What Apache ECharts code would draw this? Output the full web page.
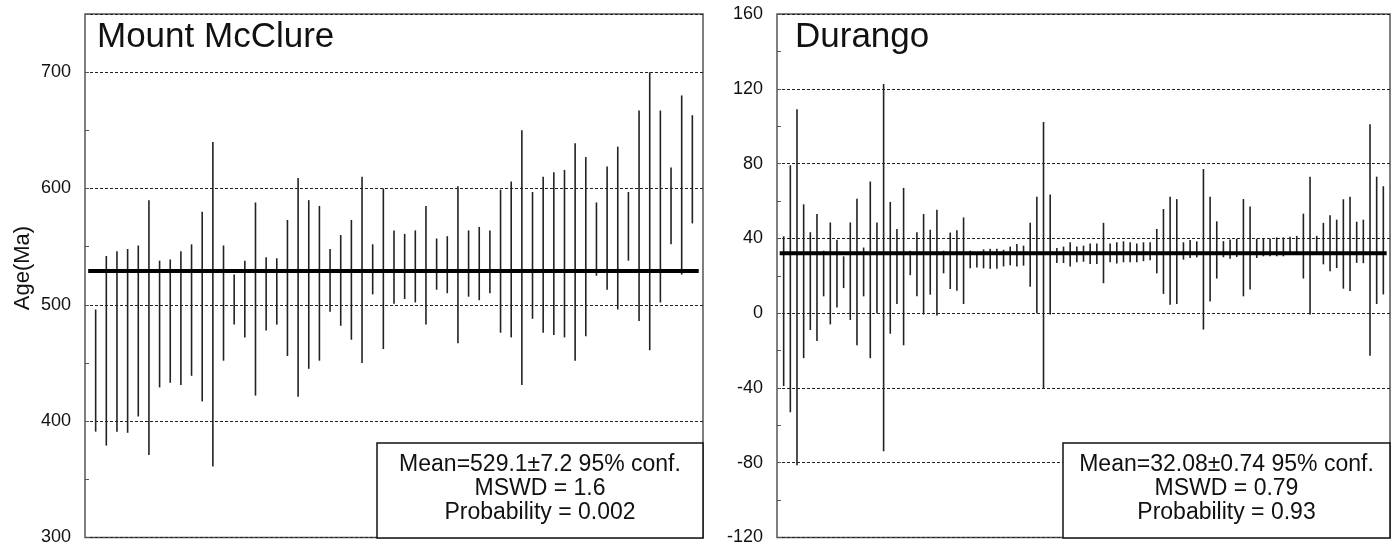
<!DOCTYPE html>
<html>
<head>
<meta charset="utf-8">
<script src="https://cdn.jsdelivr.net/npm/echarts@6/dist/echarts.min.js"></script>
<style>
  html, body { margin: 0; padding: 0; background: #fff; }
  #chart { width: 1395px; height: 547px; }
</style>
</head>
<body>
<div id="chart"></div>
<script>
// ---------- Data ----------
const mcTitle = 'Mount McClure';
const duTitle = 'Durango';
const yAxisName = 'Age(Ma)';

const mcTicks = [300, 400, 500, 600, 700];
const duTicks = [-120, -80, -40, 0, 40, 80, 120, 160];

const mcMean = 529.1;
const duMean = 32.08;

const mcStats = ['Mean=529.1\u00B17.2 95% conf.', 'MSWD = 1.6', 'Probability = 0.002'];
const duStats = ['Mean=32.08\u00B10.74 95% conf.', 'MSWD = 0.79', 'Probability = 0.93'];

// Mount McClure error bars (upper / lower ends, Ma)
const mcHigh = [496, 542, 546, 548, 551, 590, 538, 539, 546, 552,
                580, 640, 551, 526, 538, 588, 541, 540, 573, 609,
                590, 585, 548, 560, 573, 610, 552, 600, 564, 561,
                564, 585, 557, 559, 602, 564, 567, 564, 599, 606,
                650, 597, 610, 614, 616, 639, 627, 588, 619, 636,
                597, 667, 700, 667, 618, 680, 663];
const mcLow  = [391, 379, 391, 390, 404, 371, 429, 433, 431, 439,
                417, 361, 452, 483, 472, 422, 478, 483, 456, 421,
                445, 452, 494, 482, 470, 450, 509, 462, 501, 505,
                502, 483, 513, 510, 467, 507, 504, 510, 476, 472,
                431, 488, 476, 474, 472, 452, 473, 525, 513, 496,
                538, 486, 461, 502, 552, 526, 570];

// Durango error bars (upper / lower ends, Ma)
const duHigh = [41.1, 79.1, 109, 58.2, 43.3, 53, 33.4, 48.5, 39.2, 30.4,
                48.5, 61.2, 35.1, 70.4, 48.5, 122.5, 59.5, 45, 67, 33.4,
                43.3, 53, 44.6, 55.3, 33.4, 43.1, 44.3, 51.2, 33.4, 32.7,
                34.1, 34.4, 34.4, 33.9, 35.6, 37, 36.1, 48.4, 62.3, 102.3,
                63.5, 34.9, 35.6, 37.9, 35.6, 36.1, 37.3, 37.3, 48.3, 37.3,
                37.9, 38.4, 37.9, 37.3, 37.9, 37.9, 45, 55.7, 62.3, 61,
                37.9, 39.1, 38.4, 77.1, 62.3, 49.1, 38.5, 39.4, 39.8, 61,
                57.1, 39.8, 39.8, 39.8, 40.5, 40.5, 40.9, 41.3, 53.2, 73,
                41.3, 48.3, 52.3, 50, 60.9, 62.2, 48.9, 50, 101, 73, 67.9];
const duLow  = [-39, -53, -81.4, -24.1, -9, -14.9, 9, -6, 3, 13.4,
                -3.7, -17.2, 9, -24.1, 0, -73.9, -11, 4.9, -17.2, 20.3,
                9, -0.7, 9.9, -1.3, 21.3, 12.9, 12, 4.9, 24, 24.4,
                24, 23.7, 23.7, 25, 25.6, 25, 25.4, 14.1, 0, -40.5,
                -0.7, 26.8, 26.8, 24.9, 27.2, 27.5, 26.3, 26.3, 16, 27.2,
                26.6, 27.2, 27.2, 27.2, 27.8, 28.3, 21.3, 10.3, 4.5, 4.9,
                28.6, 29.5, 29.8, -8.8, 6.2, 18.5, 29.9, 29.1, 30, 9,
                12.7, 29.5, 30.4, 30.4, 30.4, 30.4, 31.5, 31.9, 18.5, -0.7,
                31.5, 26.1, 22.4, 24.1, 13.1, 11.8, 26.9, 26.7, -22.8, 4.9, 10];

// ---------- Build ----------
const FONT = "'Liberation Sans', Arial, Helvetica, sans-serif";
const TXT = '#111';

function barData(lo, hi) {
  return lo.map((l, i) => [i + 1, l, hi[i]]);
}
function errorRender(params, api) {
  const x = api.value(0);
  const p1 = api.coord([x, api.value(1)]);
  const p2 = api.coord([x, api.value(2)]);
  return {
    type: 'line',
    shape: { x1: p1[0], y1: p1[1], x2: p2[0], y2: p2[1] },
    style: { stroke: '#222', lineWidth: 1.6 }
  };
}

function labelAxis(gridIndex, ticks, step, max) {
  return {
    type: 'value', gridIndex: gridIndex, position: 'left',
    min: ticks[0], max: max, interval: step,
    axisLine: { show: false }, axisTick: { show: false },
    axisLabel: {
      color: TXT, fontSize: 18, fontFamily: FONT, margin: 14,
      formatter: v => (ticks.indexOf(v) >= 0 ? String(v) : '')
    },
    splitLine: { show: true, lineStyle: { color: '#222', width: 1, type: [3, 2] } }
  };
}
function tickAxis(gridIndex, min, max, step) {
  return {
    type: 'value', gridIndex: gridIndex, position: 'left', offset: 0,
    min: min, max: max, interval: step,
    axisLine: { show: false },
    axisTick: { show: true, inside: true, length: 4, lineStyle: { color: '#555', width: 1 } },
    axisLabel: { show: false }, splitLine: { show: false }
  };
}

function statsBox(x, y, w, h, lines) {
  const els = [{
    type: 'rect', z: 100, shape: { x: x, y: y, width: w, height: h },
    style: { fill: '#fff', stroke: '#111', lineWidth: 1.5 }
  }];
  lines.forEach((t, i) => {
    els.push({
      type: 'text', z: 101, x: x + w / 2, y: y + 22 + i * 24,
      style: { text: t, fill: TXT, font: '23px ' + FONT, textAlign: 'center', textVerticalAlign: 'middle' }
    });
  });
  return els;
}

const chart = echarts.init(document.getElementById('chart'), null, { renderer: 'canvas' });
const option = {
  animation: false,
  backgroundColor: '#fff',
  grid: [
    { left: 85, top: 14, width: 618, height: 523.5, show: true, borderColor: '#555', borderWidth: 1.5, backgroundColor: 'transparent' },
    { left: 777, top: 14, width: 613, height: 523.5, show: true, borderColor: '#555', borderWidth: 1.5, backgroundColor: 'transparent' }
  ],
  xAxis: [
    { type: 'value', gridIndex: 0, min: 0, max: mcHigh.length + 1, show: false },
    { type: 'value', gridIndex: 1, min: 0, max: duHigh.length + 1, show: false }
  ],
  yAxis: [
    labelAxis(0, mcTicks, 100, 750),
    tickAxis(0, 300, 750, 50),
    labelAxis(1, duTicks, 40, 160),
    tickAxis(1, -120, 160, 20)
  ],
  series: [
    { type: 'custom', xAxisIndex: 0, yAxisIndex: 0, renderItem: errorRender, data: barData(mcLow, mcHigh), z: 3 },
    { type: 'line', xAxisIndex: 0, yAxisIndex: 0, symbol: 'none', silent: true, z: 4,
      lineStyle: { color: '#000', width: 4 },
      data: [[0.3, mcMean], [mcHigh.length + 0.6, mcMean]] },
    { type: 'custom', xAxisIndex: 1, yAxisIndex: 2, renderItem: errorRender, data: barData(duLow, duHigh), z: 3 },
    { type: 'line', xAxisIndex: 1, yAxisIndex: 2, symbol: 'none', silent: true, z: 4,
      lineStyle: { color: '#000', width: 4 },
      data: [[0.4, duMean], [duHigh.length + 0.5, duMean]] }
  ],
  graphic: [
    { type: 'text', x: 97, y: 37, z: 100,
      style: { text: mcTitle, fill: TXT, font: '35px ' + FONT, textVerticalAlign: 'middle' } },
    { type: 'text', x: 795, y: 37, z: 100,
      style: { text: duTitle, fill: TXT, font: '35px ' + FONT, textVerticalAlign: 'middle' } },
    { type: 'text', x: 23, y: 268, rotation: Math.PI / 2, z: 100,
      style: { text: yAxisName, fill: TXT, font: '22px ' + FONT, textAlign: 'center', textVerticalAlign: 'middle' } }
  ].concat(statsBox(377, 443, 326, 95, mcStats), statsBox(1063, 443, 327, 95, duStats))
};
chart.setOption(option);
</script>
</body>
</html>
